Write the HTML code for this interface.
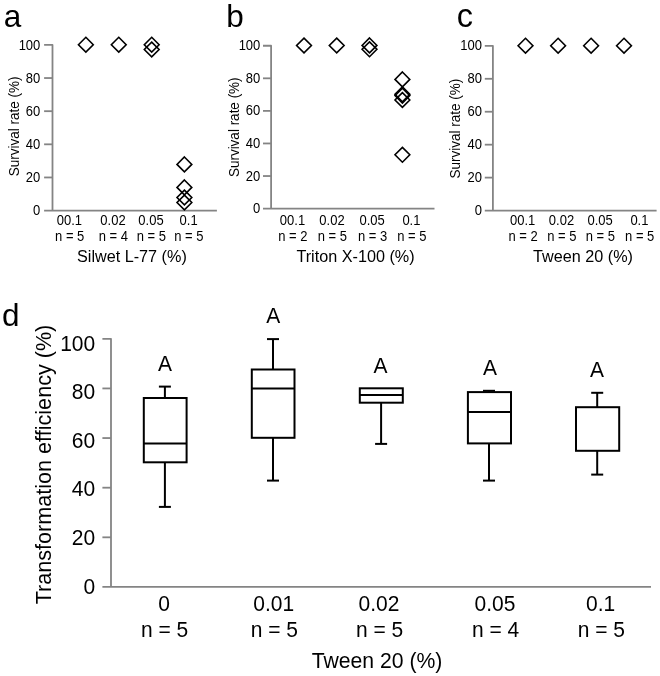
<!DOCTYPE html>
<html><head><meta charset="utf-8"><style>
html,body{margin:0;padding:0;background:#fff;}
body{width:660px;height:676px;overflow:hidden;}
svg{display:block;will-change:transform;}
text{font-family:"Liberation Sans",sans-serif;fill:#000;}
</style></head><body>
<svg width="660" height="676" viewBox="0 0 660 676">
<rect width="660" height="676" fill="#fff"/>
<text transform="translate(3.8 26.5) scale(1 1.0)" font-size="31.5" text-anchor="start">a</text>
<path d="M44.1 44.9H52.5V210.6" fill="none" stroke="#848484" stroke-width="1.8" stroke-linejoin="round"/>
<line x1="44.1" y1="210.6" x2="216.9" y2="210.6" stroke="#848484" stroke-width="1.8" stroke-linecap="butt"/>
<line x1="44.1" y1="78.03999999999999" x2="52.5" y2="78.03999999999999" stroke="#848484" stroke-width="1.8" stroke-linecap="butt"/>
<line x1="44.1" y1="111.18" x2="52.5" y2="111.18" stroke="#848484" stroke-width="1.8" stroke-linecap="butt"/>
<line x1="44.1" y1="144.32" x2="52.5" y2="144.32" stroke="#848484" stroke-width="1.8" stroke-linecap="butt"/>
<line x1="44.1" y1="177.46" x2="52.5" y2="177.46" stroke="#848484" stroke-width="1.8" stroke-linecap="butt"/>
<text transform="translate(40.3 49.5) scale(1 1.06)" font-size="13" text-anchor="end">100</text>
<text transform="translate(40.3 82.64) scale(1 1.06)" font-size="13" text-anchor="end">80</text>
<text transform="translate(40.3 115.78) scale(1 1.06)" font-size="13" text-anchor="end">60</text>
<text transform="translate(40.3 148.92) scale(1 1.06)" font-size="13" text-anchor="end">40</text>
<text transform="translate(40.3 182.06) scale(1 1.06)" font-size="13" text-anchor="end">20</text>
<text transform="translate(40.3 215.2) scale(1 1.06)" font-size="13" text-anchor="end">0</text>
<path d="M85.85 37.300000000000004L93.25 44.7L85.85 52.1L78.44999999999999 44.7Z" fill="none" stroke="#000" stroke-width="1.6" stroke-linejoin="miter"/>
<path d="M118.75 37.300000000000004L126.15 44.7L118.75 52.1L111.35 44.7Z" fill="none" stroke="#000" stroke-width="1.6" stroke-linejoin="miter"/>
<path d="M151.7 37.300000000000004L159.1 44.7L151.7 52.1L144.29999999999998 44.7Z" fill="none" stroke="#000" stroke-width="1.6" stroke-linejoin="miter"/>
<path d="M151.7 42.1L159.1 49.5L151.7 56.9L144.29999999999998 49.5Z" fill="none" stroke="#000" stroke-width="1.6" stroke-linejoin="miter"/>
<path d="M184.4 157.0L191.8 164.4L184.4 171.8L177.0 164.4Z" fill="none" stroke="#000" stroke-width="1.6" stroke-linejoin="miter"/>
<path d="M184.4 180.0L191.8 187.4L184.4 194.8L177.0 187.4Z" fill="none" stroke="#000" stroke-width="1.6" stroke-linejoin="miter"/>
<path d="M184.4 190.1L191.8 197.5L184.4 204.9L177.0 197.5Z" fill="none" stroke="#000" stroke-width="1.6" stroke-linejoin="miter"/>
<path d="M184.4 195.1L191.8 202.5L184.4 209.9L177.0 202.5Z" fill="none" stroke="#000" stroke-width="1.6" stroke-linejoin="miter"/>
<text transform="translate(69.4 225.2) scale(1 1.06)" font-size="13" text-anchor="middle">00.1</text>
<text transform="translate(69.7 241) scale(1 1.06)" font-size="13" text-anchor="middle">n = 5</text>
<text transform="translate(113 225.2) scale(1 1.06)" font-size="13" text-anchor="middle">0.02</text>
<text transform="translate(113.3 241) scale(1 1.06)" font-size="13" text-anchor="middle">n = 4</text>
<text transform="translate(151 225.2) scale(1 1.06)" font-size="13" text-anchor="middle">0.05</text>
<text transform="translate(151.3 241) scale(1 1.06)" font-size="13" text-anchor="middle">n = 5</text>
<text transform="translate(188.6 225.2) scale(1 1.06)" font-size="13" text-anchor="middle">0.1</text>
<text transform="translate(188.9 241) scale(1 1.06)" font-size="13" text-anchor="middle">n = 5</text>
<text transform="translate(131.9 261.9) scale(1 1.06)" font-size="16.2" text-anchor="middle">Silwet L-77 (%)</text>
<text transform="translate(18.8 126.45) rotate(-90) scale(1 1.06)" font-size="13.5" text-anchor="middle">Survival rate (%)</text>
<text transform="translate(226.3 26.7) scale(1 1.0)" font-size="31.5" text-anchor="start">b</text>
<path d="M263 45.75H271.1V208.6" fill="none" stroke="#848484" stroke-width="1.8" stroke-linejoin="round"/>
<line x1="263" y1="208.6" x2="434.5" y2="208.6" stroke="#848484" stroke-width="1.8" stroke-linecap="butt"/>
<line x1="263" y1="78.32" x2="271.1" y2="78.32" stroke="#848484" stroke-width="1.8" stroke-linecap="butt"/>
<line x1="263" y1="110.89" x2="271.1" y2="110.89" stroke="#848484" stroke-width="1.8" stroke-linecap="butt"/>
<line x1="263" y1="143.45999999999998" x2="271.1" y2="143.45999999999998" stroke="#848484" stroke-width="1.8" stroke-linecap="butt"/>
<line x1="263" y1="176.03" x2="271.1" y2="176.03" stroke="#848484" stroke-width="1.8" stroke-linecap="butt"/>
<text transform="translate(260.3 50.35) scale(1 1.06)" font-size="13" text-anchor="end">100</text>
<text transform="translate(260.3 82.92) scale(1 1.06)" font-size="13" text-anchor="end">80</text>
<text transform="translate(260.3 115.49) scale(1 1.06)" font-size="13" text-anchor="end">60</text>
<text transform="translate(260.3 148.06) scale(1 1.06)" font-size="13" text-anchor="end">40</text>
<text transform="translate(260.3 180.63) scale(1 1.06)" font-size="13" text-anchor="end">20</text>
<text transform="translate(260.3 213.2) scale(1 1.06)" font-size="13" text-anchor="end">0</text>
<path d="M304 38.1L311.4 45.5L304 52.9L296.6 45.5Z" fill="none" stroke="#000" stroke-width="1.6" stroke-linejoin="miter"/>
<path d="M336.7 38.1L344.09999999999997 45.5L336.7 52.9L329.3 45.5Z" fill="none" stroke="#000" stroke-width="1.6" stroke-linejoin="miter"/>
<path d="M369.5 38.0L376.9 45.4L369.5 52.8L362.1 45.4Z" fill="none" stroke="#000" stroke-width="1.6" stroke-linejoin="miter"/>
<path d="M369.5 41.9L376.9 49.3L369.5 56.699999999999996L362.1 49.3Z" fill="none" stroke="#000" stroke-width="1.6" stroke-linejoin="miter"/>
<path d="M402.4 72.0L409.79999999999995 79.4L402.4 86.80000000000001L395.0 79.4Z" fill="none" stroke="#000" stroke-width="1.6" stroke-linejoin="miter"/>
<path d="M402.4 86.89999999999999L409.79999999999995 94.3L402.4 101.7L395.0 94.3Z" fill="none" stroke="#000" stroke-width="1.6" stroke-linejoin="miter"/>
<path d="M402.4 88.19999999999999L409.79999999999995 95.6L402.4 103.0L395.0 95.6Z" fill="none" stroke="#000" stroke-width="1.6" stroke-linejoin="miter"/>
<path d="M402.4 92.6L409.79999999999995 100L402.4 107.4L395.0 100Z" fill="none" stroke="#000" stroke-width="1.6" stroke-linejoin="miter"/>
<path d="M402.4 147.4L409.79999999999995 154.8L402.4 162.20000000000002L395.0 154.8Z" fill="none" stroke="#000" stroke-width="1.6" stroke-linejoin="miter"/>
<text transform="translate(292.5 224.8) scale(1 1.06)" font-size="13" text-anchor="middle">00.1</text>
<text transform="translate(292.9 241) scale(1 1.06)" font-size="13" text-anchor="middle">n = 2</text>
<text transform="translate(332 224.8) scale(1 1.06)" font-size="13" text-anchor="middle">0.02</text>
<text transform="translate(332.4 241) scale(1 1.06)" font-size="13" text-anchor="middle">n = 5</text>
<text transform="translate(372.1 224.8) scale(1 1.06)" font-size="13" text-anchor="middle">0.05</text>
<text transform="translate(372.5 241) scale(1 1.06)" font-size="13" text-anchor="middle">n = 3</text>
<text transform="translate(411.4 224.8) scale(1 1.06)" font-size="13" text-anchor="middle">0.1</text>
<text transform="translate(411.79999999999995 241) scale(1 1.06)" font-size="13" text-anchor="middle">n = 5</text>
<text transform="translate(355.5 261.9) scale(1 1.06)" font-size="16.2" text-anchor="middle">Triton X-100 (%)</text>
<text transform="translate(238.8 127.25) rotate(-90) scale(1 1.06)" font-size="13.5" text-anchor="middle">Survival rate (%)</text>
<text transform="translate(456.8 26.7) scale(1 1.0)" font-size="32.5" text-anchor="start">c</text>
<path d="M484.8 45.85H492.9V210.55" fill="none" stroke="#848484" stroke-width="1.8" stroke-linejoin="round"/>
<line x1="484.8" y1="210.55" x2="656.6" y2="210.55" stroke="#848484" stroke-width="1.8" stroke-linecap="butt"/>
<line x1="484.8" y1="78.79" x2="492.9" y2="78.79" stroke="#848484" stroke-width="1.8" stroke-linecap="butt"/>
<line x1="484.8" y1="111.73000000000002" x2="492.9" y2="111.73000000000002" stroke="#848484" stroke-width="1.8" stroke-linecap="butt"/>
<line x1="484.8" y1="144.67000000000002" x2="492.9" y2="144.67000000000002" stroke="#848484" stroke-width="1.8" stroke-linecap="butt"/>
<line x1="484.8" y1="177.61" x2="492.9" y2="177.61" stroke="#848484" stroke-width="1.8" stroke-linecap="butt"/>
<text transform="translate(482 50.45) scale(1 1.06)" font-size="13" text-anchor="end">100</text>
<text transform="translate(482 83.39) scale(1 1.06)" font-size="13" text-anchor="end">80</text>
<text transform="translate(482 116.33) scale(1 1.06)" font-size="13" text-anchor="end">60</text>
<text transform="translate(482 149.27) scale(1 1.06)" font-size="13" text-anchor="end">40</text>
<text transform="translate(482 182.21) scale(1 1.06)" font-size="13" text-anchor="end">20</text>
<text transform="translate(482 215.15) scale(1 1.06)" font-size="13" text-anchor="end">0</text>
<path d="M525.5 38.300000000000004L532.9 45.7L525.5 53.1L518.1 45.7Z" fill="none" stroke="#000" stroke-width="1.6" stroke-linejoin="miter"/>
<path d="M558.1 38.300000000000004L565.5 45.7L558.1 53.1L550.7 45.7Z" fill="none" stroke="#000" stroke-width="1.6" stroke-linejoin="miter"/>
<path d="M591.1 38.300000000000004L598.5 45.7L591.1 53.1L583.7 45.7Z" fill="none" stroke="#000" stroke-width="1.6" stroke-linejoin="miter"/>
<path d="M624 38.300000000000004L631.4 45.7L624 53.1L616.6 45.7Z" fill="none" stroke="#000" stroke-width="1.6" stroke-linejoin="miter"/>
<text transform="translate(522.7 224.8) scale(1 1.06)" font-size="13" text-anchor="middle">00.1</text>
<text transform="translate(523.0 241) scale(1 1.06)" font-size="13" text-anchor="middle">n = 2</text>
<text transform="translate(561.5 224.8) scale(1 1.06)" font-size="13" text-anchor="middle">0.02</text>
<text transform="translate(561.8 241) scale(1 1.06)" font-size="13" text-anchor="middle">n = 5</text>
<text transform="translate(600.1 224.8) scale(1 1.06)" font-size="13" text-anchor="middle">0.05</text>
<text transform="translate(600.4 241) scale(1 1.06)" font-size="13" text-anchor="middle">n = 5</text>
<text transform="translate(639.4 224.8) scale(1 1.06)" font-size="13" text-anchor="middle">0.1</text>
<text transform="translate(639.6999999999999 241) scale(1 1.06)" font-size="13" text-anchor="middle">n = 5</text>
<text transform="translate(583 261.9) scale(1 1.06)" font-size="16.2" text-anchor="middle">Tween 20 (%)</text>
<text transform="translate(459.8 128.7) rotate(-90) scale(1 1.06)" font-size="13.5" text-anchor="middle">Survival rate (%)</text>
<text transform="translate(2 325.5) scale(1 1.0)" font-size="31.5" text-anchor="start">d</text>
<path d="M102.4 338.8H111V586.95" fill="none" stroke="#848484" stroke-width="1.8" stroke-linejoin="round"/>
<line x1="102.4" y1="586.95" x2="651" y2="586.95" stroke="#848484" stroke-width="1.8" stroke-linecap="butt"/>
<line x1="102.4" y1="388.43" x2="111" y2="388.43" stroke="#848484" stroke-width="1.8" stroke-linecap="butt"/>
<line x1="102.4" y1="438.06000000000006" x2="111" y2="438.06000000000006" stroke="#848484" stroke-width="1.8" stroke-linecap="butt"/>
<line x1="102.4" y1="487.69000000000005" x2="111" y2="487.69000000000005" stroke="#848484" stroke-width="1.8" stroke-linecap="butt"/>
<line x1="102.4" y1="537.32" x2="111" y2="537.32" stroke="#848484" stroke-width="1.8" stroke-linecap="butt"/>
<text transform="translate(95.2 350.9) scale(1 1.06)" font-size="21" text-anchor="end">100</text>
<text transform="translate(95.2 399.42) scale(1 1.06)" font-size="21" text-anchor="end">80</text>
<text transform="translate(95.2 447.94) scale(1 1.06)" font-size="21" text-anchor="end">60</text>
<text transform="translate(95.2 496.46) scale(1 1.06)" font-size="21" text-anchor="end">40</text>
<text transform="translate(95.2 544.98) scale(1 1.06)" font-size="21" text-anchor="end">20</text>
<text transform="translate(95.2 593.5) scale(1 1.06)" font-size="21" text-anchor="end">0</text>
<text transform="translate(50.5 464.5) rotate(-90) scale(1 1.06)" font-size="21.6" text-anchor="middle">Transformation efficiency (%)</text>
<line x1="164.9" y1="386.6" x2="164.9" y2="398" stroke="#000" stroke-width="2.0" stroke-linecap="butt"/>
<line x1="158.9" y1="386.6" x2="170.9" y2="386.6" stroke="#000" stroke-width="2.0" stroke-linecap="butt"/>
<line x1="164.9" y1="462.3" x2="164.9" y2="506.9" stroke="#000" stroke-width="2.0" stroke-linecap="butt"/>
<line x1="158.9" y1="506.9" x2="170.9" y2="506.9" stroke="#000" stroke-width="2.0" stroke-linecap="butt"/>
<rect x="143.8" y="398" width="42.79999999999998" height="64.30000000000001" fill="none" stroke="#000" stroke-width="2.0"/>
<line x1="143.8" y1="443.6" x2="186.6" y2="443.6" stroke="#000" stroke-width="2.0" stroke-linecap="butt"/>
<text transform="translate(165 370.9) scale(1 1.06)" font-size="21" text-anchor="middle">A</text>
<line x1="273.0" y1="339.1" x2="273.0" y2="369.5" stroke="#000" stroke-width="2.0" stroke-linecap="butt"/>
<line x1="267.0" y1="339.1" x2="279.0" y2="339.1" stroke="#000" stroke-width="2.0" stroke-linecap="butt"/>
<line x1="273.0" y1="437.8" x2="273.0" y2="480.6" stroke="#000" stroke-width="2.0" stroke-linecap="butt"/>
<line x1="267.0" y1="480.6" x2="279.0" y2="480.6" stroke="#000" stroke-width="2.0" stroke-linecap="butt"/>
<rect x="251.8" y="369.5" width="42.69999999999999" height="68.30000000000001" fill="none" stroke="#000" stroke-width="2.0"/>
<line x1="251.8" y1="388.5" x2="294.5" y2="388.5" stroke="#000" stroke-width="2.0" stroke-linecap="butt"/>
<text transform="translate(273.2 323.1) scale(1 1.06)" font-size="21" text-anchor="middle">A</text>
<line x1="381.1" y1="402.7" x2="381.1" y2="443.9" stroke="#000" stroke-width="2.0" stroke-linecap="butt"/>
<line x1="375.1" y1="443.9" x2="387.1" y2="443.9" stroke="#000" stroke-width="2.0" stroke-linecap="butt"/>
<rect x="359.8" y="388.3" width="43.0" height="14.399999999999977" fill="none" stroke="#000" stroke-width="2.0"/>
<line x1="359.8" y1="395.0" x2="402.8" y2="395.0" stroke="#000" stroke-width="2.0" stroke-linecap="butt"/>
<text transform="translate(380.6 372.6) scale(1 1.06)" font-size="21" text-anchor="middle">A</text>
<line x1="489.0" y1="390.8" x2="489.0" y2="392.1" stroke="#000" stroke-width="2.0" stroke-linecap="butt"/>
<line x1="483.0" y1="390.8" x2="495.0" y2="390.8" stroke="#000" stroke-width="2.0" stroke-linecap="butt"/>
<line x1="489.0" y1="443.4" x2="489.0" y2="480.6" stroke="#000" stroke-width="2.0" stroke-linecap="butt"/>
<line x1="483.0" y1="480.6" x2="495.0" y2="480.6" stroke="#000" stroke-width="2.0" stroke-linecap="butt"/>
<rect x="467.9" y="392.1" width="43.10000000000002" height="51.299999999999955" fill="none" stroke="#000" stroke-width="2.0"/>
<line x1="467.9" y1="411.9" x2="511.0" y2="411.9" stroke="#000" stroke-width="2.0" stroke-linecap="butt"/>
<text transform="translate(490 375.2) scale(1 1.06)" font-size="21" text-anchor="middle">A</text>
<line x1="597.2" y1="392.8" x2="597.2" y2="407.2" stroke="#000" stroke-width="2.0" stroke-linecap="butt"/>
<line x1="591.2" y1="392.8" x2="603.2" y2="392.8" stroke="#000" stroke-width="2.0" stroke-linecap="butt"/>
<line x1="597.2" y1="450.8" x2="597.2" y2="474.6" stroke="#000" stroke-width="2.0" stroke-linecap="butt"/>
<line x1="591.2" y1="474.6" x2="603.2" y2="474.6" stroke="#000" stroke-width="2.0" stroke-linecap="butt"/>
<rect x="576.0" y="407.2" width="43.200000000000045" height="43.60000000000002" fill="none" stroke="#000" stroke-width="2.0"/>
<text transform="translate(597 377.2) scale(1 1.06)" font-size="21" text-anchor="middle">A</text>
<text transform="translate(164 610.9) scale(1 1.06)" font-size="21" text-anchor="middle">0</text>
<text transform="translate(164.6 636.7) scale(1 1.06)" font-size="21" text-anchor="middle">n = 5</text>
<text transform="translate(273.7 610.9) scale(1 1.06)" font-size="21" text-anchor="middle">0.01</text>
<text transform="translate(274.3 636.7) scale(1 1.06)" font-size="21" text-anchor="middle">n = 5</text>
<text transform="translate(379 610.9) scale(1 1.06)" font-size="21" text-anchor="middle">0.02</text>
<text transform="translate(379.6 636.7) scale(1 1.06)" font-size="21" text-anchor="middle">n = 5</text>
<text transform="translate(495 610.9) scale(1 1.06)" font-size="21" text-anchor="middle">0.05</text>
<text transform="translate(495.6 636.7) scale(1 1.06)" font-size="21" text-anchor="middle">n = 4</text>
<text transform="translate(600.7 610.9) scale(1 1.06)" font-size="21" text-anchor="middle">0.1</text>
<text transform="translate(601.3000000000001 636.7) scale(1 1.06)" font-size="21" text-anchor="middle">n = 5</text>
<text transform="translate(377 668.2) scale(1 1.06)" font-size="21.2" text-anchor="middle">Tween 20 (%)</text>
</svg>
</body></html>
